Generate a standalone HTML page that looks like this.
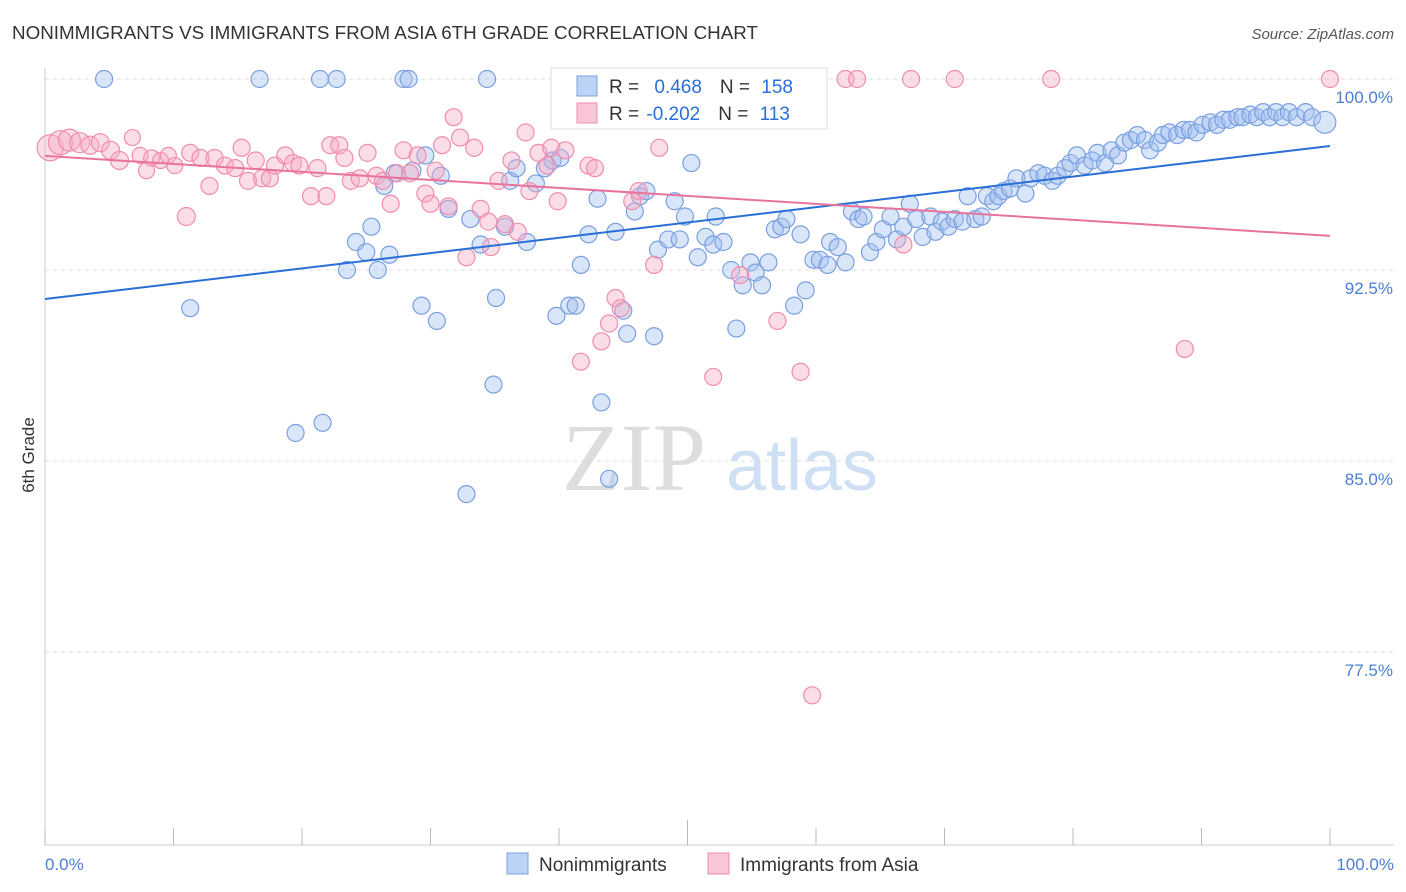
<!DOCTYPE html>
<html><head><meta charset="utf-8">
<style>
body{margin:0;background:#fff;font-family:"Liberation Sans",sans-serif;}
svg{display:block}
</style></head>
<body>
<svg id="chart" width="1406" height="892" xmlns="http://www.w3.org/2000/svg">
<text x="12" y="39" font-size="18" fill="#333" textLength="746" lengthAdjust="spacingAndGlyphs">NONIMMIGRANTS VS IMMIGRANTS FROM ASIA 6TH GRADE CORRELATION CHART</text>
<text x="1394" y="39" font-size="15" fill="#555" font-style="italic" text-anchor="end">Source: ZipAtlas.com</text>
<g>
<text x="634" y="490" font-size="96" fill="#ddd" font-family="Liberation Serif,serif" text-anchor="middle">ZIP</text>
<text x="802" y="490" font-size="72" fill="#cfe0f5" text-anchor="middle">atlas</text>
</g>
<g id="grid"></g>
<g id="axes"></g>
<g id="pts"></g>
<g id="lines"></g>
<text x="34" y="455" font-size="17" fill="#333" transform="rotate(-90 34 455)" text-anchor="middle">6th Grade</text>
<g>
<rect x="551" y="68" width="276" height="61" fill="#fff" stroke="#ddd"/>
<rect x="577" y="76" width="20" height="20" fill="#bcd3f5" stroke="#7aa0e0"/>
<rect x="577" y="103" width="20" height="20" fill="#f9c6d6" stroke="#f08cb0"/>
<text x="609" y="93" font-size="19" fill="#333">R = <tspan fill="#2a6fd6" dx="10">0.468</tspan><tspan dx="18" fill="#333">N = </tspan><tspan fill="#2a6fd6" dx="6">158</tspan></text>
<text x="609" y="120" font-size="19" fill="#333">R = <tspan fill="#2a6fd6" dx="2">-0.202</tspan><tspan dx="18" fill="#333">N = </tspan><tspan fill="#2a6fd6" dx="6">113</tspan></text>
</g>
<g>
<rect x="507" y="853" width="21" height="21" fill="#bcd3f5" stroke="#7aa0e0"/>
<text x="539" y="871" font-size="19" fill="#333">Nonimmigrants</text>
<rect x="708" y="853" width="21" height="21" fill="#f9c6d6" stroke="#f08cb0"/>
<text x="740" y="871" font-size="19" fill="#333">Immigrants from Asia</text>
</g>
</svg>
<script>
const blueX=[4.6,16.7,21.4,22.7,27.9,28.3,34.4,11.3,19.5,21.6,32.8,23.5,24.2,25.0,25.4,25.9,26.8,26.4,27.2,28.6,29.6,29.3,30.5,31.4,30.8,33.1,33.9,34.9,35.1,35.8,36.2,36.7,37.5,38.2,38.9,39.5,40.1,39.8,40.8,41.3,41.7,42.3,43.0,43.3,43.9,44.4,45.0,45.3,45.9,46.3,46.8,47.4,47.7,48.5,49.0,49.4,49.8,50.3,50.8,51.4,52.0,52.2,52.8,53.4,53.8,54.3,54.9,55.3,55.8,56.3,56.8,57.3,57.7,58.3,58.8,59.2,59.8,60.3,60.9,61.1,61.7,62.3,62.8,63.3,63.7,64.2,64.7,65.2,65.8,66.3,66.8,67.3,67.8,68.3,68.9,69.3,69.8,70.3,70.8,71.4,71.8,72.4,72.9,73.3,73.8,74.2,74.6,75.1,75.6,76.3,76.7,77.3,77.8,78.4,78.8,79.4,79.8,80.3,80.9,81.5,81.9,82.5,83.0,83.5,84.0,84.5,85.0,85.6,86.0,86.6,87.0,87.5,88.1,88.6,89.1,89.6,90.1,90.7,91.2,91.7,92.2,92.8,93.2,93.8,94.3,94.8,95.3,95.8,96.3,96.8,97.4,98.1,98.6,99.6];
const blueY=[100,100,100,100,100,100,100,91.0,86.1,86.5,83.7,92.5,93.6,93.2,94.2,92.5,93.1,95.8,96.3,96.4,97.0,91.1,90.5,94.9,96.2,94.5,93.5,88.0,91.4,94.2,96.0,96.5,93.6,95.9,96.5,96.8,96.9,90.7,91.1,91.1,92.7,93.9,95.3,87.3,84.3,94.0,90.9,90.0,94.8,95.4,95.6,89.9,93.3,93.7,95.2,93.7,94.6,96.7,93.0,93.8,93.5,94.6,93.6,92.5,90.2,91.9,92.8,92.4,91.9,92.8,94.1,94.2,94.5,91.1,93.9,91.7,92.9,92.9,92.7,93.6,93.4,92.8,94.8,94.5,94.6,93.2,93.6,94.1,94.6,93.7,94.2,95.1,94.5,93.8,94.6,94.0,94.4,94.2,94.5,94.4,95.4,94.5,94.6,95.4,95.2,95.4,95.6,95.7,96.1,95.5,96.1,96.3,96.2,96.0,96.2,96.5,96.7,97.0,96.6,96.8,97.1,96.7,97.2,97.0,97.5,97.6,97.8,97.6,97.2,97.5,97.8,97.9,97.8,98.0,98.0,97.9,98.2,98.3,98.2,98.4,98.4,98.5,98.5,98.6,98.5,98.7,98.5,98.7,98.5,98.7,98.5,98.7,98.5,98.3];
const pinkX=[0.4,1.2,1.9,2.7,3.5,4.3,5.1,5.8,6.8,7.4,7.9,8.3,9.0,9.6,10.1,11.0,11.3,12.1,12.8,13.2,14.0,14.8,15.3,15.8,16.4,16.9,17.5,17.9,18.7,19.3,19.8,20.7,21.2,21.9,22.2,22.9,23.3,23.8,24.5,25.1,25.8,26.3,26.9,27.4,27.9,28.4,29.0,29.6,30.0,30.4,30.9,31.4,31.8,32.3,32.8,33.4,33.9,34.5,34.7,35.3,35.8,36.3,36.8,37.4,37.7,38.4,39.1,39.4,39.9,40.5,41.7,42.3,42.8,43.3,43.9,44.4,44.8,45.7,46.2,47.4,47.8,52.0,52.5,52.9,54.1,54.5,57.0,58.8,59.7,62.3,63.2,66.8,67.4,70.8,78.3,88.7,100];
const pinkY=[97.3,97.5,97.6,97.5,97.4,97.5,97.2,96.8,97.7,97.0,96.4,96.9,96.8,97.0,96.6,94.6,97.1,96.9,95.8,96.9,96.6,96.5,97.3,96.0,96.8,96.1,96.1,96.6,97.0,96.7,96.6,95.4,96.5,95.4,97.4,97.4,96.9,96.0,96.1,97.1,96.2,96.0,95.1,96.3,97.2,96.3,97.0,95.5,95.1,96.4,97.4,95.0,98.5,97.7,93.0,97.3,94.9,94.4,93.4,96.0,94.3,96.8,94.0,97.9,95.6,97.1,96.6,97.3,95.2,97.2,88.9,96.6,96.5,89.7,90.4,91.4,91.0,95.2,95.6,92.7,97.3,88.3,100,99.6,92.3,98.9,90.5,88.5,75.8,100,100,93.5,100,100,100,89.4,100];
const pinkR=[13,12,11,10,9,9,9,9,8,8,8,8,8,8,8,9];
const blueTrend=[91.36,97.37];
const pinkTrend=[96.98,93.84];
const yTicks=[100,92.5,85,77.5];
const yTickLabels=["100.0%","92.5%","85.0%","77.5%"];
const xTicks=[0,10,20,30,40,50,60,70,80,90,100];

const NS="http://www.w3.org/2000/svg";
const X0=45,X1=1330,Y100=79,PXPER=191/7.5;
const sx=v=>X0+(X1-X0)*v/100;
const sy=v=>Y100+(100-v)*PXPER;
function mk(tag,attrs,parent){const e=document.createElementNS(NS,tag);for(const k in attrs)e.setAttribute(k,attrs[k]);parent.appendChild(e);return e;}
const grid=document.getElementById('grid'),axes=document.getElementById('axes'),pts=document.getElementById('pts'),lines=document.getElementById('lines');
yTicks.forEach((t,i)=>{
  const l=mk('line',{x1:X0,x2:1394,y1:sy(t),y2:sy(t),stroke:'#ddd','stroke-dasharray':'4,4'},grid);
  
  
  const tx=mk('text',{x:1393,y:sy(t)+24,'font-size':17,fill:'#4a7fd4','text-anchor':'end'},axes);
  tx.textContent=yTickLabels[i];
  
  
});
const ax=mk('line',{x1:X0,x2:1394,y1:845,y2:845,stroke:'#ccc'},axes);


const ay=mk('line',{x1:X0,x2:X0,y1:68,y2:845,stroke:'#ccc'},axes);


xTicks.forEach(t=>{
  const l=mk('line',{x1:sx(t),x2:sx(t),y1:t===50?820:828,y2:845,stroke:'#bbb'},axes);
  
  
});
const xl=mk('text',{x:45,y:870,'font-size':17,fill:'#4a7fd4'},axes);xl.textContent='0.0%';


const xr=mk('text',{x:1394,y:870,'font-size':17,fill:'#4a7fd4','text-anchor':'end'},axes);xr.textContent='100.0%';


blueX.forEach((v,i)=>{
  const c=mk('circle',{cx:sx(v),cy:sy(blueY[i]),r:i===blueX.length-1?11:8.5,fill:'rgba(160,190,240,0.4)',stroke:'#7aa0e0','stroke-width':1.2},pts);
  
  
});
pinkX.forEach((v,i)=>{
  const c=mk('circle',{cx:sx(v),cy:sy(pinkY[i]),r:pinkR[i]||8.5,fill:'rgba(245,170,195,0.4)',stroke:'#f08cb0','stroke-width':1.2},pts);
  
  
});
const bl=mk('line',{x1:sx(0),x2:sx(100),y1:sy(blueTrend[0]),y2:sy(blueTrend[1]),stroke:'#2a6fd6','stroke-width':2},lines);


const pl=mk('line',{x1:sx(0),x2:sx(100),y1:sy(pinkTrend[0]),y2:sy(pinkTrend[1]),stroke:'#e8739c','stroke-width':2},lines);


</script>
</body></html>
